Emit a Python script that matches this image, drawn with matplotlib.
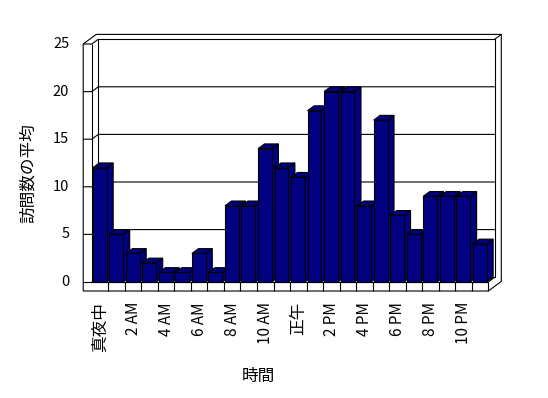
import matplotlib
matplotlib.use("Agg")
import matplotlib.pyplot as plt
from matplotlib.patches import Polygon

# ---- data ----
hours = list(range(24))
visits = [12, 5, 3, 2, 1, 1, 3, 1, 8, 8, 14, 12, 11, 18, 20, 20, 8, 17, 7, 5, 9, 9, 9, 4]
tick_labels = ["真夜中", "2 AM", "4 AM", "6 AM", "8 AM", "10 AM",
               "正午", "2 PM", "4 PM", "6 PM", "8 PM", "10 PM"]
y_ticks = [0, 5, 10, 15, 20, 25]
x_title = "時間"
y_title = "訪問数の平均"

plt.rcParams["font.family"] = ["Noto Sans CJK JP", "DejaVu Sans"]

W, H = 548, 398
fig = plt.figure(figsize=(W / 100, H / 100), dpi=100)
fig.patch.set_facecolor("white")

x0px, x1px, y0px, y1px = 91.8, 488.3, 282.0, 44.0
ax = fig.add_axes([x0px / W, 1 - y0px / H, (x1px - x0px) / W, (y0px - y1px) / H])
N = len(hours)
ymax = y_ticks[-1]
ax.set_xlim(0, N)
ax.set_ylim(0, ymax)
ax.axis("off")

sx = (x1px - x0px) / N
sy = (y0px - y1px) / ymax
dx = 6.5 / sx
dy = 4.8 / sy
t = 8.6 / sx
f = 9.0 / sy
LW = 0.8
NAVY = "#000080"


def poly(pts, fc="none", z=1.0):
    ax.add_patch(Polygon(pts, closed=True, facecolor=fc, edgecolor="black",
                         lw=LW, zorder=z, clip_on=False, joinstyle="miter"))


def line(pts, z=2.0):
    xs = [p[0] for p in pts]
    ys = [p[1] for p in pts]
    ax.plot(xs, ys, color="black", lw=LW, zorder=z, clip_on=False,
            solid_capstyle="butt", solid_joinstyle="miter")


# outer silhouette of walls + floor
poly([(-t, -f), (-t, ymax), (-t + 2 * dx, ymax + 2 * dy), (N + 2 * dx, ymax + 2 * dy),
      (N + 2 * dx, -f + 2 * dy), (N, -f)], fc="white", z=0.5)
# back wall face
poly([(dx, dy), (N + dx, dy), (N + dx, ymax + dy), (dx, ymax + dy)], fc="white", z=1)
line([(-t, ymax), (0, ymax), (dx, ymax + dy)])
line([(N + dx, ymax + dy), (N + 2 * dx, ymax + 2 * dy)])
line([(0, ymax), (0, 0)])
line([(0, 0), (dx, dy)])
line([(-t, 0), (N, 0)], z=3)
line([(N, 0), (N + dx, dy)], z=3)
line([(N, 0), (N, -f)], z=3)
for i in range(1, N):
    line([(i, -f), (i, 0)], z=3)

# gridlines / ticks
for v in y_ticks[1:-1]:
    line([(-t, v), (0, v), (dx, v + dy), (N + dx, v + dy)])

# bars
for i, v in enumerate(visits):
    a, b = i + 0.06, i + 0.9
    z = 5 + i * 0.01
    poly([(b, 0), (b + dx, dy), (b + dx, v + dy), (b, v)], fc=NAVY, z=z)
    poly([(a, v), (b, v), (b + dx, v + dy), (a + dx, v + dy)], fc=NAVY, z=z)
    poly([(a, 0), (b, 0), (b, v), (a, v)], fc=NAVY, z=z)

# y tick labels
for v in y_ticks:
    ax.text(-t - 14 / sx, v, str(v), ha="right", va="center", fontsize=10.5,
            color="black", clip_on=False)

# category labels
for k, lab in enumerate(tick_labels):
    i = hours[k * 2]
    fs = 12 if not lab.isascii() else 11
    ax.text(i + 0.5, -(302 - y0px) / sy, lab, rotation=90, ha="center", va="top",
            fontsize=fs, color="black", clip_on=False)

fig.text(258 / W, 1 - 376 / H, x_title, ha="center", va="center", fontsize=12)
fig.text(28.5 / W, 1 - 173 / H, y_title, ha="center", va="center", rotation=90, fontsize=12)

fig.savefig("out.png", dpi=100, facecolor="white")
